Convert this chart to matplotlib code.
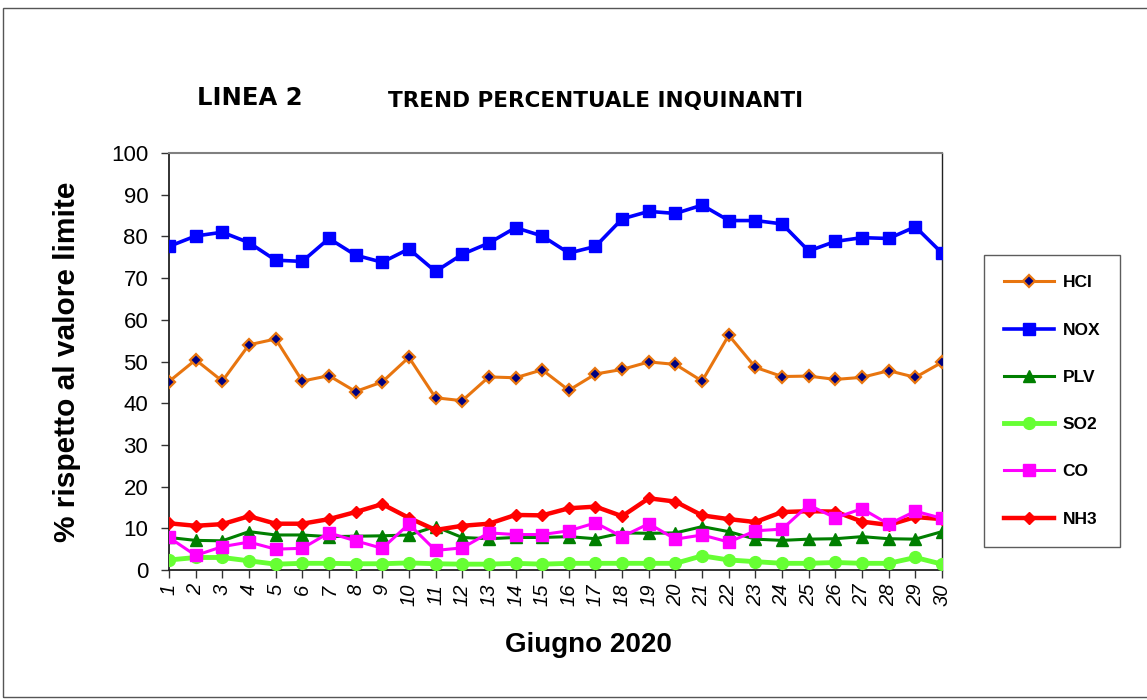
import matplotlib
matplotlib.use("Agg")
import matplotlib.pyplot as plt
from matplotlib.patches import Rectangle

days = list(range(1, 31))
hcl = [45.2, 50.4, 45.3, 54.0, 55.4, 45.3, 46.6, 42.8, 45.1, 51.0, 41.3, 40.6, 46.3, 46.1, 48.0,
       43.1, 47.0, 48.1, 49.9, 49.3, 45.3, 56.3, 48.6, 46.4, 46.5, 45.7, 46.2, 47.8, 46.2, 49.8]
nox = [77.6, 80.1, 81.0, 78.5, 74.3, 74.0, 79.5, 75.5, 73.8, 77.0, 71.6, 75.7, 78.4, 82.1, 80.1,
       76.0, 77.6, 84.2, 86.0, 85.5, 87.5, 83.8, 83.8, 83.0, 76.5, 78.8, 79.7, 79.5, 82.3, 76.0]
plv = [7.8, 7.1, 7.0, 9.2, 8.4, 8.4, 8.0, 8.1, 8.2, 8.4, 10.4, 7.8, 7.5, 7.8, 7.8,
       8.0, 7.5, 8.9, 8.8, 8.9, 10.4, 9.2, 7.4, 7.1, 7.4, 7.5, 8.0, 7.5, 7.4, 9.2]
so2 = [2.4, 3.0, 3.0, 2.2, 1.4, 1.6, 1.6, 1.5, 1.5, 1.7, 1.5, 1.4, 1.4, 1.6, 1.4,
       1.6, 1.6, 1.6, 1.6, 1.6, 3.4, 2.4, 2.0, 1.6, 1.6, 1.8, 1.6, 1.6, 3.0, 1.4]
co = [7.8, 3.5, 5.6, 6.7, 5.0, 5.2, 8.9, 7.0, 5.2, 11.0, 4.7, 5.3, 8.9, 8.5, 8.5,
      9.4, 11.3, 8.0, 11.1, 7.4, 8.4, 6.7, 9.4, 9.8, 15.6, 12.5, 14.7, 11.0, 14.1, 12.4]
nh3 = [11.2, 10.6, 11.0, 12.9, 11.1, 11.1, 12.2, 13.9, 15.8, 12.5, 9.6, 10.6, 11.1, 13.2, 13.1,
       14.8, 15.2, 12.9, 17.2, 16.4, 13.1, 12.2, 11.5, 13.9, 14.1, 14.0, 11.6, 10.8, 12.7, 12.2]
series_names = ["HCI", "NOX", "PLV", "SO2", "CO", "NH3"]
yticks = list(range(0, 101, 10))

plt.rcParams["font.family"] = ["Liberation Sans", "DejaVu Sans"]

fig = plt.figure(figsize=(11.47, 7.0), dpi=100)
fig.patches.append(Rectangle((3/1147, 3/700), 1.1, 689/700, transform=fig.transFigure,
                             fill=False, edgecolor="#555555", lw=1.0))
ax = fig.add_axes([169/1147, 1 - 570/700, (942-169)/1147, (570-153)/700])

ax.plot(days, hcl, color="#E8750F", lw=2.2, marker="D", ms=6, mfc="#000080", mec="#E8750F", mew=1.6, label=series_names[0], zorder=3)
ax.plot(days, nox, color="#0000FF", lw=2.6, marker="s", ms=8.5, mfc="#0000FF", mec="#0000FF", label=series_names[1], zorder=3)
ax.plot(days, plv, color="#007F00", lw=2.2, marker="^", ms=8, mfc="#007F00", mec="#007F00", label=series_names[2], zorder=4)
ax.plot(days, so2, color="#66FF33", lw=3.5, marker="o", ms=8.5, mfc="#66FF33", mec="#66FF33", label=series_names[3], zorder=3)
ax.plot(days, co, color="#FF00FF", lw=2.2, marker="s", ms=8.5, mfc="#FF00FF", mec="#FF00FF", label=series_names[4], zorder=5)
ax.plot(days, nh3, color="#FF0000", lw=3.2, marker="D", ms=6.5, mfc="#FF0000", mec="#FF0000", label=series_names[5], zorder=4)

ax.set_xlim(1, 30)
ax.set_ylim(0, 100)
ax.set_yticks(yticks)
ax.set_xticks(days)
ax.set_yticklabels([str(v) for v in yticks], fontsize=16)
ax.set_xticklabels([str(d) for d in days], fontsize=14.5, rotation=90, style="italic")
ax.tick_params(axis="both", direction="out", length=6, width=1, color="#333333")
ax.tick_params(axis="y", pad=9)
ax.tick_params(axis="x", pad=4)
for s in ["left", "bottom"]:
    ax.spines[s].set_color("#222222")
    ax.spines[s].set_linewidth(1.3)
ax.spines["top"].set_color("#808080")
ax.spines["top"].set_linewidth(1.5)
ax.spines["right"].set_color("#222222")
ax.spines["right"].set_linewidth(1.0)

ax.set_ylabel("% rispetto al valore limite", fontsize=21.5, fontweight="bold")
ax.yaxis.set_label_coords(-0.114, 0.5)
fig.text(588/1147, 1 - 645/700, "Giugno 2020", fontsize=20, fontweight="bold", ha="center", va="center")
fig.text(250/1147, 1 - 98/700, "LINEA 2", fontsize=17.5, fontweight="bold", ha="center", va="center",
         family="DejaVu Sans")
fig.text(596/1147, 1 - 101/700, "TREND PERCENTUALE INQUINANTI", fontsize=15.5, fontweight="bold",
         ha="center", va="center", family="DejaVu Sans")

leg = fig.legend(loc="center", bbox_to_anchor=(1052/1147, 1 - 401/700), frameon=True, fancybox=False,
                 edgecolor="#333333", prop={"weight": "bold", "size": 12.5}, labelspacing=1.85,
                 handlelength=2.9, borderpad=1.15, handletextpad=0.5, borderaxespad=0)
leg.get_frame().set_linewidth(1.0)

fig.savefig("out.png", dpi=100, facecolor="white")
